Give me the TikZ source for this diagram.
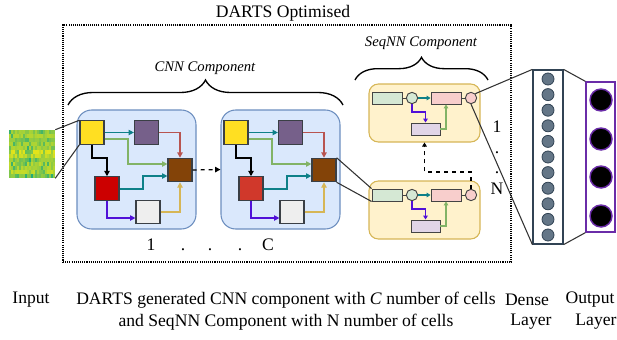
\documentclass[tikz,border=0pt]{standalone}
\usepackage{fontspec}
\setmainfont{Liberation Serif}
\usetikzlibrary{arrows.meta,decorations.pathreplacing,calc}

\definecolor{cellbg}{HTML}{DAE8FC}
\definecolor{cellbd}{HTML}{6C8EBF}
\definecolor{yellowbox}{HTML}{FFDF22}
\definecolor{purplebox}{HTML}{76608A}
\definecolor{brownbox}{HTML}{834308}
\definecolor{redA}{HTML}{CC0000}
\definecolor{redB}{HTML}{D0382B}
\definecolor{whitebox}{HTML}{EEEEEE}
\definecolor{boxbd}{HTML}{3A3F45}
\definecolor{ateal}{HTML}{0E8088}
\definecolor{agreen}{HTML}{82B366}
\definecolor{ared}{HTML}{B85450}
\definecolor{ablue}{HTML}{5010D8}
\definecolor{agold}{HTML}{D6B656}
\definecolor{seqbg}{HTML}{FFF2CC}
\definecolor{seqbd}{HTML}{D6B656}
\definecolor{sgreen}{HTML}{D5E8D4}
\definecolor{spink}{HTML}{F8CECC}
\definecolor{slav}{HTML}{E1D5E7}
\definecolor{sbd}{HTML}{444444}
\definecolor{dcirc}{HTML}{647687}
\definecolor{dbd}{HTML}{314354}
\definecolor{outbd}{HTML}{6A2CA8}
\definecolor{hmY}{HTML}{E2E41A}
\definecolor{hmG}{HTML}{22AA78}
\definecolor{linkc}{HTML}{333333}

\tikzset{
  lbl/.style={font=\fontsize{13.2}{16.5}\selectfont, inner sep=0pt},
  itlbl/.style={font=\fontsize{11}{13}\selectfont\itshape, inner sep=0pt},
  cellbox/.style={draw=cellbd, fill=cellbg, rounded corners=11pt, line width=0.8pt,
    minimum width=89.25pt, minimum height=89.25pt, inner sep=0pt},
  opbox/.style={draw=boxbd, line width=0.9pt, minimum width=18pt, minimum height=17.5pt, inner sep=0pt},
  conn/.style={line width=0.9pt, -{Triangle[length=4pt,width=4pt]}},
  conntwo/.style={line width=0.9pt, -{Triangle[length=3pt,width=3.5pt]}},
  seqbox/.style={draw=seqbd, fill=seqbg, rounded corners=7pt, line width=0.8pt,
    minimum width=83.25pt, minimum height=43.5pt, inner sep=0pt},
  srect/.style={draw=sbd, line width=0.7pt, minimum width=22.5pt, minimum height=9pt, inner sep=0pt},
  scirc/.style={draw=sbd, line width=0.7pt, circle, minimum size=8.5pt, inner sep=0pt},
  sline/.style={draw=sbd, line width=0.7pt},
  link/.style={draw=linkc, line width=0.8pt},
  bracestyle/.style={line width=1pt, decorate},
}

\newcommand\mycnncell[3]{%
\begin{scope}[shift={(#2,0)}]
  \node[cellbox] (#1bg) at (136.5,169.5) {};
  \node[opbox, fill=yellowbox] (#1y) at (92,132.5) {};
  \node[opbox, fill=purplebox] (#1p) at (146.5,132.5) {};
  \node[opbox, fill=brownbox] (#1b) at (180,170) {};
  \node[opbox, fill=#3] (#1r) at (107,188.5) {};
  \node[opbox, fill=whitebox] (#1w) at (148,212) {};
  \draw[conn, ateal] (#1y.east) -- (#1p.west);
  \draw[conn, agreen] (#1y.east |- 0,139) -| (128,164) -- (#1b.west |- 0,164);
  \draw[conn, black] (#1y.south) |- (107,158) -- (#1r.north);
  \draw[conn, ared] (#1p.east) -| (#1b.north);
  \draw[conn, ateal] (#1r.east |- 0,189) -| (143,176) -- (#1b.west |- 0,176);
  \draw[conn, ablue] (#1r.south) |- (#1w.west |- 0,218);
  \draw[conn, agold] (#1w.east) -| (#1b.south);
\end{scope}}

\newcommand\myseqcell[2]{%
\begin{scope}[shift={(0,#2)}]
  \node[seqbox] (#1bg) at (424.5,113) {};
  \node[srect, fill=sgreen] (#1g) at (387,98) {};
  \node[scirc, fill=sgreen] (#1gc) at (412,98) {};
  \node[srect, fill=spink] (#1k) at (446,98) {};
  \node[scirc, fill=spink] (#1kc) at (471,98) {};
  \node[srect, fill=slav, minimum width=21.75pt] (#1l) at (425.5,129) {};
  \draw[sline] (#1g) -- (#1gc);
  \draw[conntwo, ateal] (#1gc) -- (#1k);
  \draw[sline] (#1k) -- (#1kc);
  \draw[conntwo, ablue] (#1gc.south) |- (#1l.north |- 0,112) -- (#1l.north);
  \draw[conntwo, agreen] (#1l.east) -| (#1k.south);
\end{scope}}

\begin{document}
\begin{tikzpicture}[x=0.75pt, y=-0.75pt]
\useasboundingbox (0,0) rectangle (617,339);

% dotted frame and title
\node[draw, line width=0.8pt, dash pattern=on 0.8pt off 0.8pt, minimum width=336pt, minimum height=177.75pt, inner sep=0pt] (dbox) at (287,143.5) {};
\node[lbl] (title) at (283,13) {DARTS Optimised};

% input heatmap
\pgfmathsetseed{11}
\foreach \j in {0,...,11}{
  \pgfmathsetmacro\base{rnd}
  \foreach \i in {0,...,22}{
    \pgfmathsetmacro\q{rnd}
    \pgfmathtruncatemacro\m{max(0,min(100,100*(0.45*\base+0.7*\q*\q*\q)))}
    \fill[hmG!\m!hmY] (9+2*\i,130+4*\j) rectangle ++(2.05,4.05);
  }
}
\node[minimum width=34.5pt, minimum height=36pt, inner sep=0pt] (in) at (32,154) {};

% CNN cells
\mycnncell{ca}{0}{redA}
\mycnncell{cc}{144}{redB}

\draw[link] (in.north east) -- (cay.north west);
\draw[link] (in.south east) -- (cay.south west);
\draw[conn, black, dashed] (cab.east) -- (ccbg.west);

% CNN labels
\node[lbl] (n1) at (151,245) {1};
\node[lbl] (d1) at (183,250) {.};
\node[lbl] (d2) at (210,250) {.};
\node[lbl] (d3) at (240,250) {.};
\node[lbl] (nC) at (268,245) {C};

% braces
\draw[bracestyle, decoration={brace, amplitude=18.75pt}] (68,105) -- (343,105);
\node[itlbl] (cnnlbl) at (205,68) {CNN Component};
\draw[bracestyle, decoration={brace, amplitude=17pt}] (355,80) -- (488,80);
\node[itlbl] (seqlbl) at (421,43) {SeqNN Component};

% SeqNN cells
\myseqcell{sa}{0}
\myseqcell{sb}{97}
\draw[conntwo, black, dashed, line width=1pt] (sbkc.north) |- (sabg.south |- 0,172) -- (sabg.south);
\draw[link] (ccb.north east) -- (sbg.north west);
\draw[link] (ccb.south east) -- (sbg.south west);

\node[lbl] (m1) at (497,127) {1};
\node[lbl] (md1) at (497,153) {.};
\node[lbl] (md2) at (497,173) {.};
\node[lbl] (mN) at (497,189) {N};

% dense layer
\node[draw=dbd, fill=white, line width=0.9pt, minimum width=22.5pt, minimum height=130.5pt, inner sep=0pt] (dense) at (548,157) {};
\foreach \k in {0,...,10}{
  \node[circle, fill=dcirc, draw=dbd, line width=0.6pt, minimum size=9pt, inner sep=0pt] (dc\k) at (548,79+15.6*\k) {};
}
% output layer
\node[draw=outbd, line width=1pt, minimum width=21.75pt, minimum height=112.5pt, inner sep=0pt] (out) at (600.5,157) {};
\foreach \k/\yy in {0/100,1/139,2/177,3/216}{
  \node[circle, fill=black, draw=outbd, line width=1.1pt, minimum size=16.5pt, inner sep=0pt] (oc\k) at (601,\yy) {};
}
\draw[link] (sakc.north east) -- (dense.north west);
\draw[link] (sakc.south) -- (dense.south west);
\draw[link] (dense.north east) -- (out.north west);
\draw[link] (dense.south east) -- (out.south west);

% bottom captions
\node[lbl] (capin) at (31,300) {Input};
\node[lbl, align=center] (capmain) at (286,311) {DARTS generated CNN component with \textit{C} number of cells\\and SeqNN Component with N number of cells};
\node[lbl] (capd1) at (527,300) {Dense};
\node[lbl] (capd2) at (531,322) {Layer};
\node[lbl] (capo1) at (590,300) {Output};
\node[lbl] (capo2) at (596,322) {Layer};
\end{tikzpicture}
\end{document}
